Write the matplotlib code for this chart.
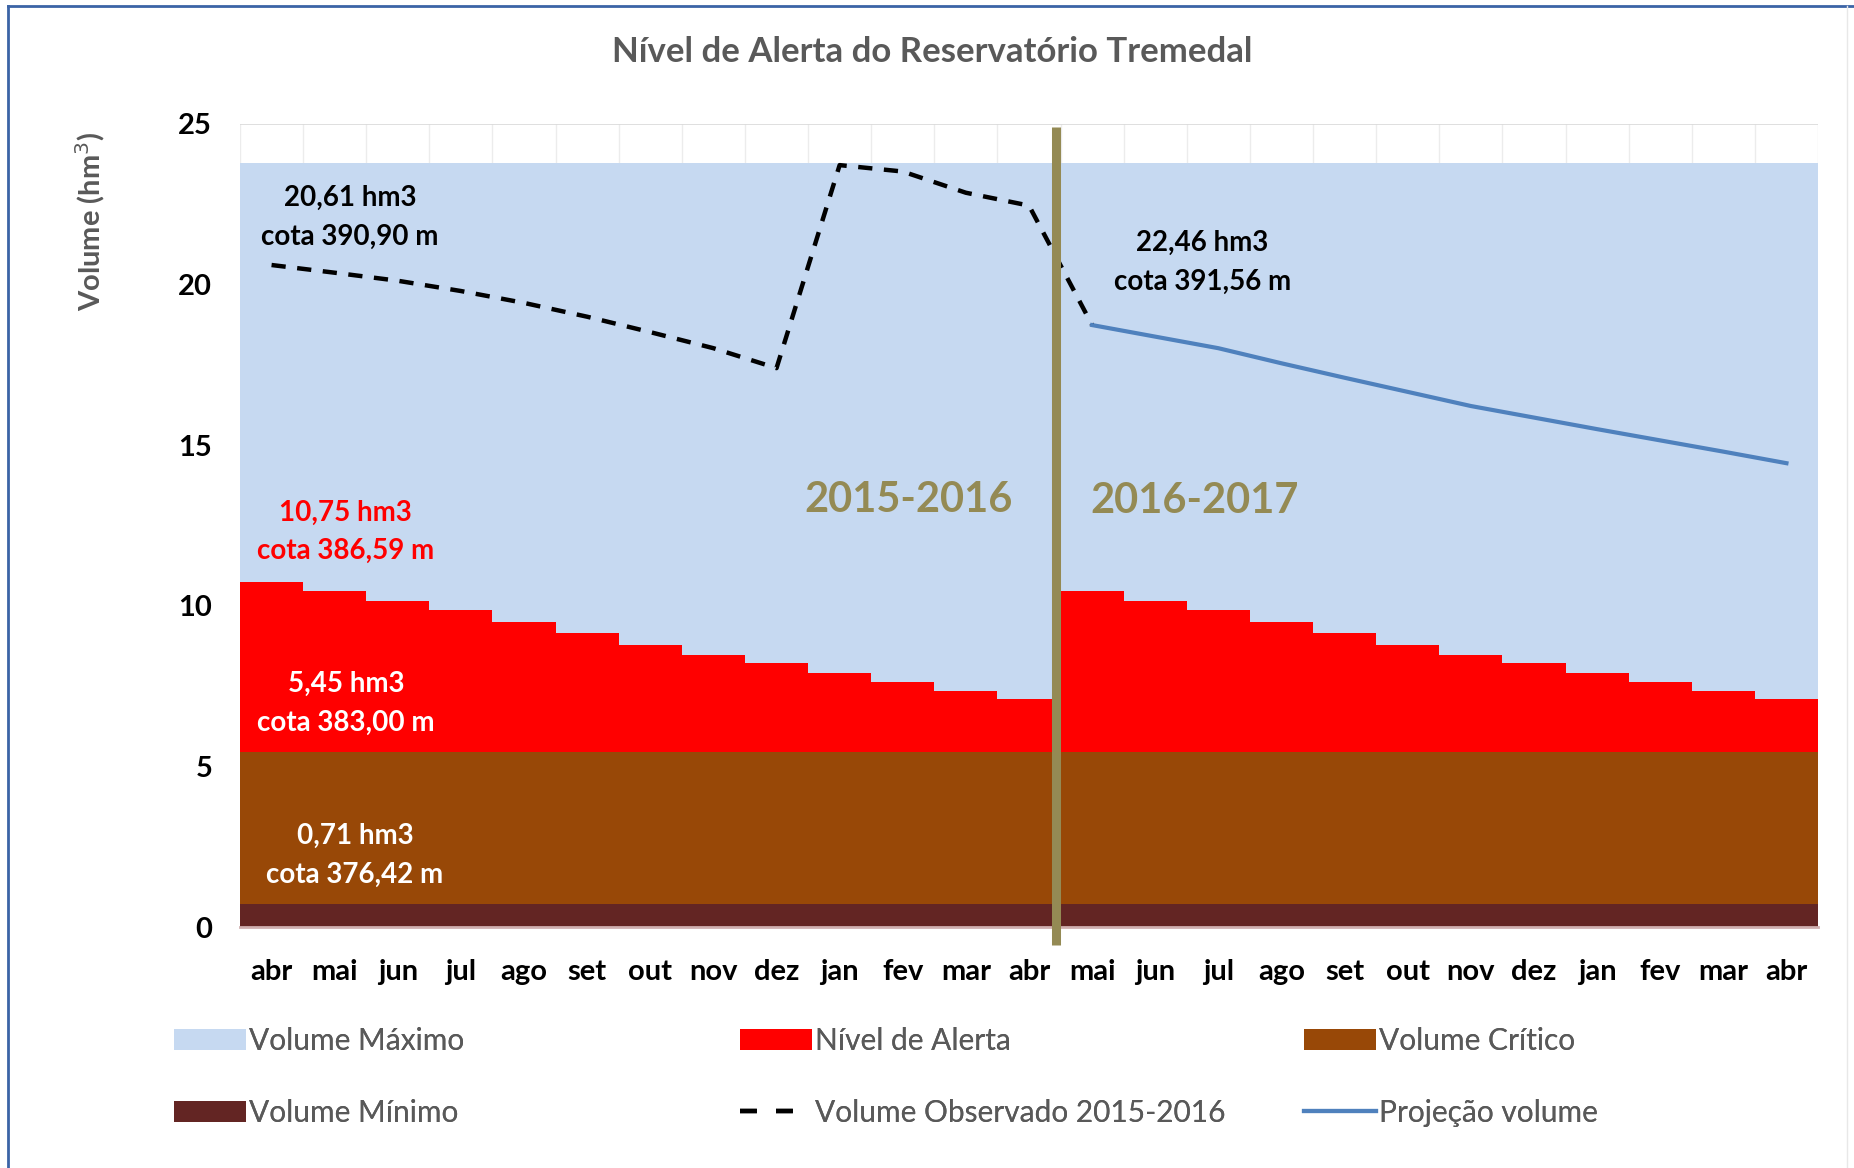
import matplotlib
matplotlib.use("Agg")
import matplotlib.pyplot as plt
import numpy as np
from matplotlib.patches import Patch
from matplotlib.lines import Line2D

plt.rcParams['font.family'] = ['Lato', 'DejaVu Sans']

# ---------------- data ----------------
months = ['abr', 'mai', 'jun', 'jul', 'ago', 'set', 'out', 'nov', 'dez', 'jan', 'fev', 'mar', 'abr',
          'mai', 'jun', 'jul', 'ago', 'set', 'out', 'nov', 'dez', 'jan', 'fev', 'mar', 'abr']
volume_maximo = [23.8] * 25
nivel_alerta_year = [10.75, 10.45, 10.16, 9.87, 9.51, 9.14, 8.78, 8.46, 8.23, 7.90, 7.63, 7.35, 7.11]
nivel_alerta = nivel_alerta_year + nivel_alerta_year[1:]
volume_critico = [5.45] * 25
volume_minimo = [0.71] * 25
observado = [20.61, 20.37, 20.12, 19.80, 19.43, 19.00, 18.52, 18.02, 17.40,
             23.72, 23.52, 22.86, 22.46, 18.74]
projecao = [18.74, 18.38, 18.02, 17.55, 17.10, 16.66, 16.22, 15.86, 15.50, 15.15, 14.80, 14.44]
obs_start = 0
proj_start = 13

# ---------------- figure ----------------
W, H = 1854, 1168
fig = plt.figure(figsize=(W / 100, H / 100), dpi=100)
ax = fig.add_axes([240 / W, 1 - 927 / H, (1818 - 240) / W, (927 - 124) / H])

n = len(months)
x = np.arange(n) + 0.5

c_max = '#C6D9F1'
c_alert = '#FF0000'
c_crit = '#984807'
c_min = '#632523'
c_obs = '#000000'
c_proj = '#4F81BD'
c_olive = '#948A54'

vmax = np.array(volume_maximo)
valert = np.array(nivel_alerta)
vcrit = np.array(volume_critico)
vmin = np.array(volume_minimo)

ax.bar(x, vmin, width=1.0, color=c_min, linewidth=0, zorder=2)
ax.bar(x, vcrit - vmin, bottom=vmin, width=1.0, color=c_crit, linewidth=0, zorder=2)
ax.bar(x, valert - vcrit, bottom=vcrit, width=1.0, color=c_alert, linewidth=0, zorder=2)
ax.bar(x, vmax - valert, bottom=valert, width=1.0, color=c_max, linewidth=0, zorder=2)

ax.plot(x[obs_start:obs_start + len(observado)], observado, color=c_obs, lw=3.2,
        dashes=(3.2, 2.6), zorder=4, dash_capstyle='butt')
ax.plot(x[proj_start:proj_start + len(projecao)], projecao, color=c_proj, lw=3.0, zorder=4)

# separator line between years
ax.plot([12.93, 12.93], [-0.56, 24.9], color=c_olive, lw=6.5, zorder=5, clip_on=False,
        solid_capstyle='butt')

ax.set_xlim(0, n)
ax.set_ylim(0, 25)
ax.set_yticks([0, 5, 10, 15, 20, 25])
ax.set_xticks(x)
ax.set_xticklabels(months)
ax.set_xticks(np.arange(0, n + 0.5, 0.5), minor=True)
ax.grid(axis='x', which='minor', color='#ececec', lw=1.0, zorder=0)
ax.grid(axis='y', which='major', color='#d9d9d9', lw=1.2, zorder=0)
ax.set_axisbelow(True)

for s in ['top', 'right', 'left']:
    ax.spines[s].set_visible(False)
ax.spines['bottom'].set_color('#d0b0b0')
ax.spines['bottom'].set_linewidth(2)
ax.spines['bottom'].set_zorder(3)
ax.tick_params(axis='both', which='both', length=0)
ax.tick_params(axis='y', pad=20, labelsize=21)
ax.tick_params(axis='x', pad=23, labelsize=21)
for lab in ax.get_xticklabels() + ax.get_yticklabels():
    lab.set_fontweight('bold')
    lab.set_color('#000000')

# texts
txt_kw = dict(ha='center', va='center', fontsize=20, fontweight='bold', linespacing=1.6, zorder=6)
ax.text(1.74, 22.1, '20,61 hm3\ncota 390,90 m', color='black', **txt_kw)
ax.text(15.25, 20.7, '22,46 hm3\ncota 391,56 m', color='black', **txt_kw)
ax.text(1.67, 12.3, '10,75 hm3\ncota 386,59 m', color='#FF0000', **txt_kw)
ax.text(1.68, 6.97, '5,45 hm3\ncota 383,00 m', color='white', **txt_kw)
ax.text(1.82, 2.23, '0,71 hm3\ncota 376,42 m', color='white', **txt_kw)
ax.text(10.59, 13.3, '2015-2016', color=c_olive, ha='center', va='center', fontsize=30,
        fontweight='bold', zorder=6)
ax.text(15.12, 13.27, '2016-2017', color=c_olive, ha='center', va='center', fontsize=30,
        fontweight='bold', zorder=6)

fig.text(932 / W, 1 - 52 / H, 'Nível de Alerta do Reservatório Tremedal', ha='center', va='center',
         fontsize=25, fontweight='bold', color='#595959')
fig.text(90 / W, 1 - 221 / H, 'Volume (hm$^3$)', ha='center', va='center', rotation=90,
         fontsize=21, fontweight='bold', color='#595959')

# legends (three columns)
h_max = Patch(facecolor=c_max, edgecolor='none', label='Volume Máximo')
h_alert = Patch(facecolor=c_alert, edgecolor='none', label='Nível de Alerta')
h_crit = Patch(facecolor=c_crit, edgecolor='none', label='Volume Crítico')
h_min = Patch(facecolor=c_min, edgecolor='none', label='Volume Mínimo')
h_obs = Line2D([], [], color=c_obs, lw=3.2, dashes=(3.8, 4.3), label='Volume Observado 2015-2016')
h_proj = Line2D([], [], color=c_proj, lw=3.0, label='Projeção volume')

leg_kw = dict(loc='center left', frameon=False, fontsize=21.5, handlelength=2.4, handleheight=0.7,
              handletextpad=0.12, labelspacing=1.45, borderpad=0, borderaxespad=0, labelcolor='#595959')
ycen = 1 - 1077 / H
for hs, xl in [([h_max, h_min], 174), ([h_alert, h_obs], 740), ([h_crit, h_proj], 1304)]:
    lg = fig.legend(handles=hs, bbox_to_anchor=(xl / W, ycen), **leg_kw)
    fig.add_artist(lg)

# outer border
fig.add_artist(Line2D([8 / W, 8 / W], [0, 1 - 6 / H], transform=fig.transFigure, color='#3B64A6', lw=2))
fig.add_artist(Line2D([8 / W, 1], [1 - 6 / H, 1 - 6 / H], transform=fig.transFigure, color='#3B64A6', lw=2))
fig.add_artist(Line2D([1847 / W, 1847 / W], [0, 1 - 6 / H], transform=fig.transFigure, color='#e8e8e8', lw=1))

fig.savefig('out.png', dpi=100)
